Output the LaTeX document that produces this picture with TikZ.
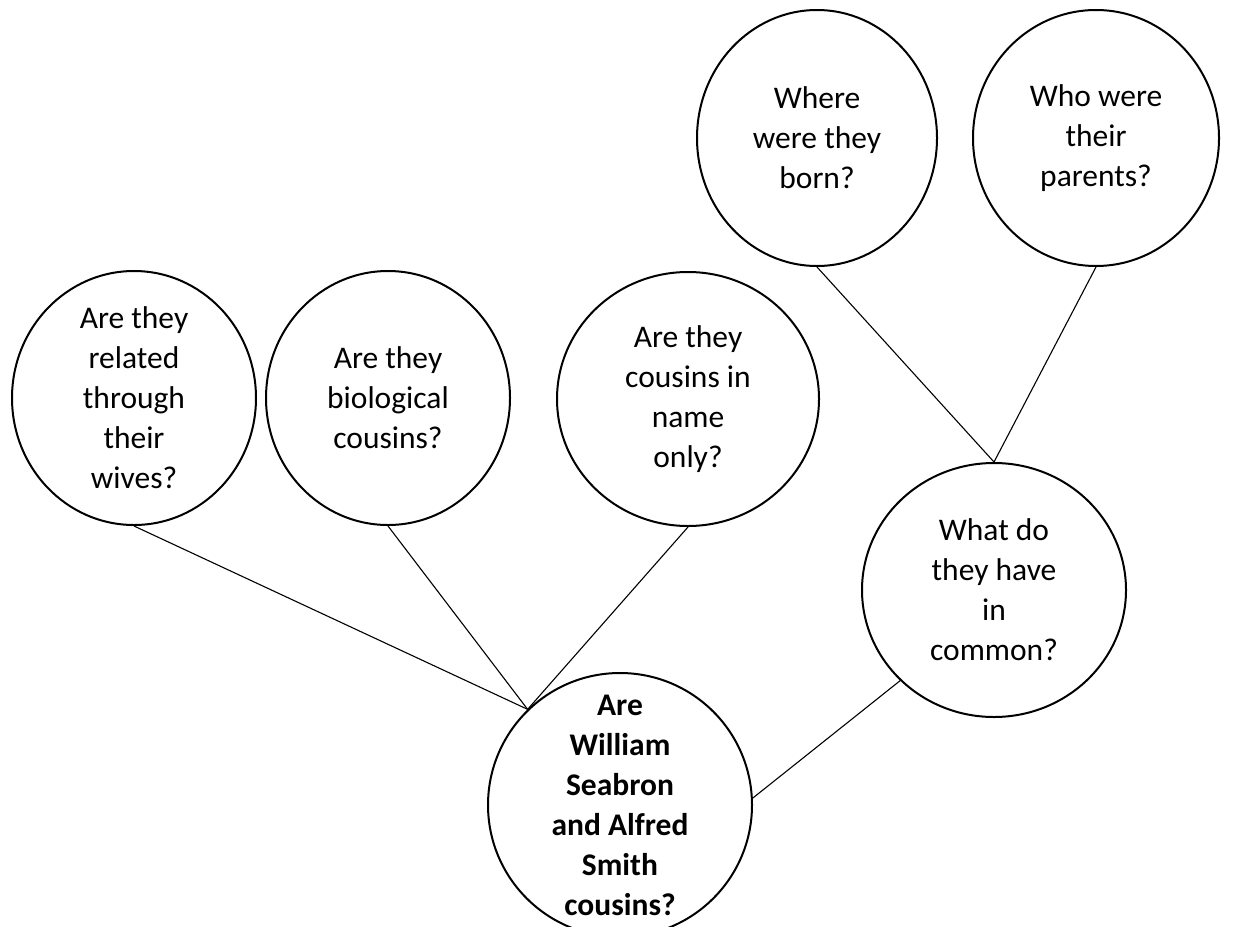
\documentclass[tikz,border=0pt]{standalone}
\usepackage{fontspec}
\setmainfont{Carlito}
\usetikzlibrary{shapes.geometric}

\begin{document}
\begin{tikzpicture}[x=1pt,y=-1pt,
  bubble/.style={draw,ellipse,line width=2pt,inner sep=0pt,minimum width=244pt,minimum height=254pt},
  question/.style={align=center,font=\fontsize{31.5}{40}\selectfont},
  link/.style={line width=1.1pt}]
\clip (0,0) rectangle (1260,926);
\node[bubble,label={[question]center:Are they\\related\\through\\their\\wives?}] (wives) at (134,398) {};
\node[bubble,label={[question]center:Are they\\biological\\cousins?}] (biological) at (388,398) {};
\node[bubble,minimum width=262pt,label={[question]center:Are they\\cousins in\\name\\only?}] (nameonly) at (688,399) {};
\node[bubble,minimum width=264pt,minimum height=264pt,label={[question,font=\fontsize{31.5}{40}\selectfont\bfseries]center:Are\\William\\Seabron\\and Alfred\\Smith\\cousins?}] (root) at (620,805) {};
\node[bubble,minimum width=264pt,label={[question]center:What do\\they have\\in\\common?}] (common) at (994,590) {};
\node[bubble,minimum width=240pt,minimum height=256pt,label={[question]center:Where\\were they\\born?}] (born) at (817,138) {};
\node[bubble,minimum width=246pt,minimum height=256pt,label={[question]center:Who were\\their\\parents?}] (parents) at (1096,138) {};
\draw[link] (wives.south) -- (root.134);
\draw[link] (biological.south) -- (root.134);
\draw[link] (nameonly.south) -- (root.134);
\draw[link] (root.3) -- (common.224);
\draw[link] (common.north) -- (born.south);
\draw[link] (common.north) -- (parents.south);
\end{tikzpicture}
\end{document}
